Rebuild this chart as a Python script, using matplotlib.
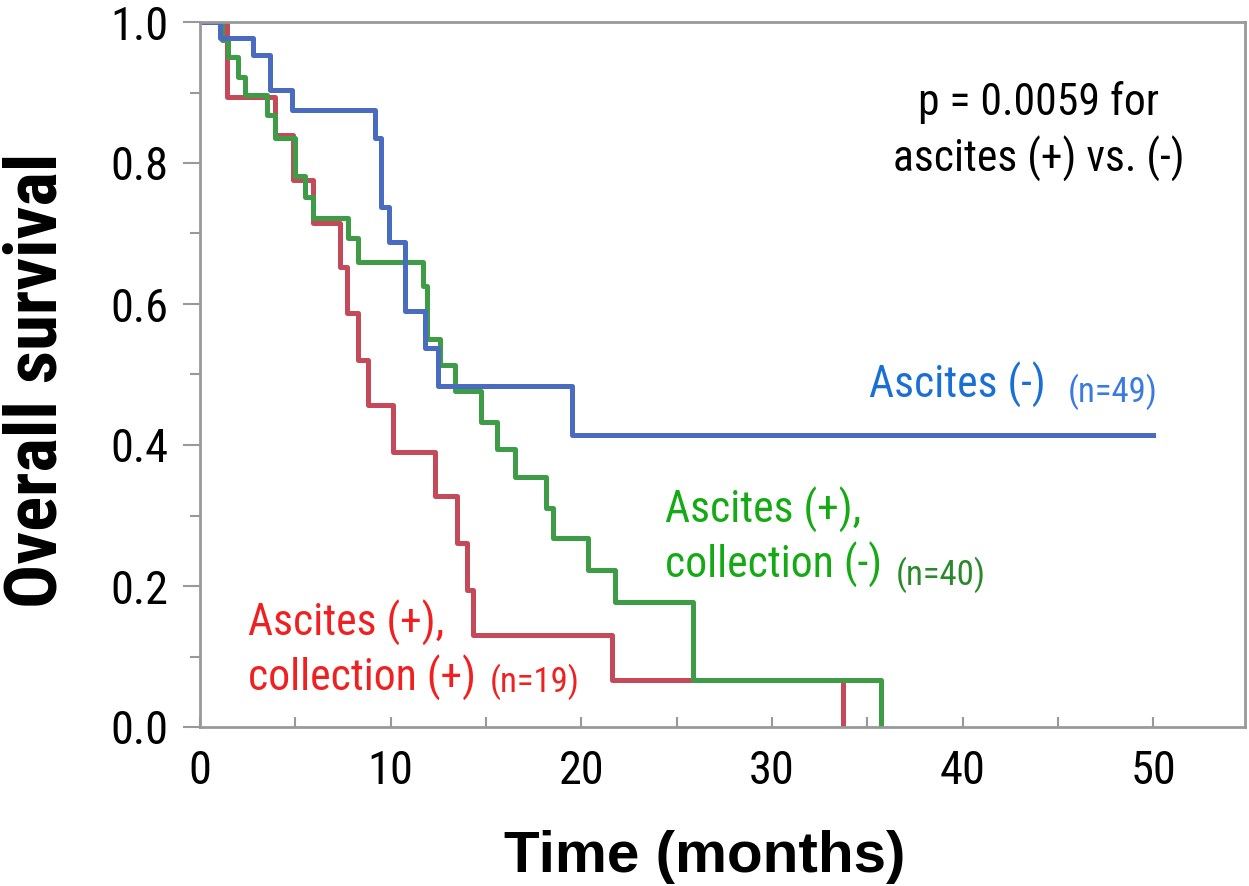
import matplotlib
matplotlib.use("Agg")
import matplotlib.pyplot as plt
from matplotlib.ticker import MultipleLocator
from matplotlib import font_manager as fm
from matplotlib.font_manager import FontProperties

# ---- data ----
blue_t = [0, 1.05, 2.8, 3.67, 4.8, 9.2, 9.5, 9.9, 10.75, 11.8, 12.5, 19.5, 50]
blue_s = [1.0, 0.978, 0.953, 0.904, 0.875, 0.835, 0.738, 0.688, 0.590, 0.538, 0.483, 0.414, 0.414]

green_t = [0, 1.15, 1.45, 2.0, 2.36, 3.5, 3.93, 4.98, 5.5, 5.94, 7.78, 8.3, 11.7, 11.9,
           12.58, 13.37, 14.76, 15.55, 16.5, 18.17, 18.5, 20.35, 21.75, 25.85, 35.7]
green_s = [1.0, 0.975, 0.951, 0.922, 0.896, 0.868, 0.835, 0.781, 0.752, 0.722, 0.693, 0.660,
           0.625, 0.551, 0.513, 0.476, 0.433, 0.395, 0.355, 0.310, 0.268, 0.223, 0.178, 0.067, 0.0]

red_t = [0, 1.4, 3.93, 4.86, 5.94, 7.34, 7.7, 8.3, 8.8, 10.1, 12.3, 13.5, 13.98, 14.3, 21.6, 33.7]
red_s = [1.0, 0.894, 0.840, 0.776, 0.715, 0.653, 0.587, 0.521, 0.457, 0.390, 0.327, 0.261,
         0.194, 0.130, 0.067, 0.0]

x_ticks = [0, 10, 20, 30, 40, 50]
y_ticks = [0.0, 0.2, 0.4, 0.6, 0.8, 1.0]

# ---- font choice: a narrow sans if available ----
entries = [(f.name, str(f.stretch)) for f in fm.fontManager.ttflist]
names = {n for n, _ in entries}
if 'Liberation Sans Narrow' in names:
    narrow = dict(family='Liberation Sans Narrow')
elif 'Roboto Condensed' in names:
    narrow = dict(family='Roboto Condensed')
elif any(n == 'Roboto' and 'condensed' in s for n, s in entries):
    narrow = dict(family='Roboto', stretch='condensed')
else:
    narrow = dict(family='Liberation Sans')


def fp(size, weight='normal'):
    return FontProperties(size=size, weight=weight, **narrow)


fig = plt.figure(figsize=(12.49, 8.86), dpi=100)
renderer = fig.canvas.get_renderer()


def fit(s, target_px, weight='normal', base=30):
    t = fig.text(0, 0, s, fontproperties=fp(base, weight))
    w = t.get_window_extent(renderer).width
    t.remove()
    return base * target_px / w


main_size = fit('ascites (+) vs. (-)', 292)
n_size = fit('(n=49)', 90)
tick_size = fit('0.8', 58)
ylab_size = fit('Overall survival', 455, weight='bold', base=46)

ax = fig.add_axes([200 / 1249, 1 - 727 / 886, (1245 - 200) / 1249, (727 - 22) / 886])

ax.step(red_t, red_s, where='post', color='#c44a5a', lw=3.6)
ax.step(green_t, green_s, where='post', color='#3f9c46', lw=3.6)
ax.step(blue_t, blue_s, where='post', color='#4a6cc0', lw=3.6)

ax.set_xlim(0, 54.8)
ax.set_ylim(0, 1.0)
ax.set_xticks(x_ticks)
ax.set_yticks(y_ticks)
ax.set_xticklabels([str(v) for v in x_ticks], fontproperties=fp(tick_size))
ax.set_yticklabels([f"{v:.1f}" for v in y_ticks], fontproperties=fp(tick_size))
ax.xaxis.set_minor_locator(MultipleLocator(5))
ax.yaxis.set_minor_locator(MultipleLocator(0.1))

for s in ax.spines.values():
    s.set_color('#999999')
    s.set_linewidth(2)

ax.tick_params(axis='y', which='major', direction='out', length=12, width=1.5, color='#999999', pad=11)
ax.tick_params(axis='y', which='minor', direction='out', length=7, width=1.5, color='#999999')
ax.tick_params(axis='x', which='major', direction='in', length=7, width=1.5, color='#999999', pad=16)
ax.tick_params(axis='x', which='minor', direction='in', length=7, width=1.5, color='#999999')

fig.text(37 / 1249, 1 - 380 / 886, 'Overall survival', fontproperties=fp(ylab_size, 'bold'),
         rotation=90, ha='center', va='center')
fig.text(705 / 1249, 1 - 872 / 886, 'Time (months)',
         family='Liberation Sans', fontweight='bold', fontsize=42, ha='center', va='baseline')

# annotations
ax.text(44.0, 0.868, 'p = 0.0059 for', fontproperties=fp(main_size), ha='center', va='baseline')
ax.text(44.0, 0.787, 'ascites (+) vs. (-)', fontproperties=fp(main_size), ha='center', va='baseline')

ax.text(35.1, 0.467, 'Ascites (-)', fontproperties=fp(main_size), color='#1a6fd6', va='baseline')
ax.text(45.5, 0.461, '(n=49)', fontproperties=fp(n_size), color='#3a7be0', va='baseline')

ax.text(24.4, 0.289, 'Ascites (+),', fontproperties=fp(main_size), color='#14aa14', va='baseline')
ax.text(24.4, 0.211, 'collection (-)', fontproperties=fp(main_size), color='#14aa14', va='baseline')
ax.text(36.5, 0.201, '(n=40)', fontproperties=fp(n_size), color='#2a8a2a', va='baseline')

ax.text(2.5, 0.129, 'Ascites (+),', fontproperties=fp(main_size), color='#f02020', va='baseline')
ax.text(2.5, 0.052, 'collection (+)', fontproperties=fp(main_size), color='#f02020', va='baseline')
ax.text(15.2, 0.050, '(n=19)', fontproperties=fp(n_size), color='#f02020', va='baseline')

fig.savefig('out.png', dpi=100, facecolor='white')
